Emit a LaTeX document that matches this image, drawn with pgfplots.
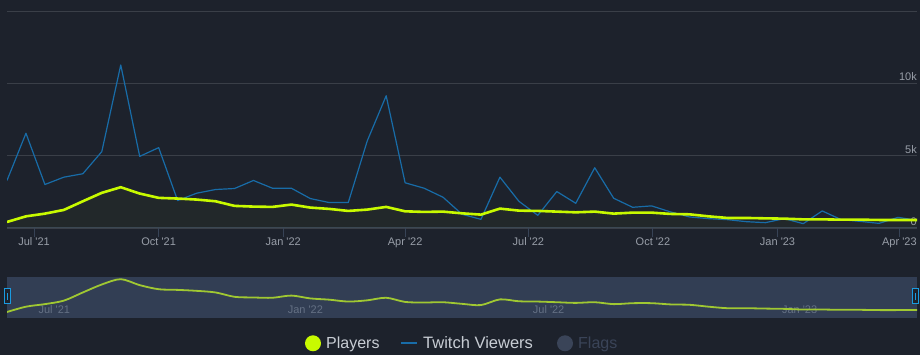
\documentclass[border=0pt]{standalone}
\usepackage{fontspec}
\setmainfont{Liberation Sans}
\usepackage{pgfplots}
\pgfplotsset{compat=1.18}
\usepackage{pgfplotstable}

\definecolor{bg}{RGB}{29,34,44}
\definecolor{gridc}{RGB}{58,63,72}
\definecolor{axisc}{RGB}{55,67,86}
\definecolor{players}{RGB}{200,250,0}
\definecolor{twitch}{RGB}{24,108,168}
\definecolor{labelc}{RGB}{152,158,168}
\definecolor{navbg}{RGB}{50,62,84}
\definecolor{navline}{RGB}{160,200,50}
\definecolor{navlab}{RGB}{100,112,132}
\definecolor{legtext}{RGB}{200,205,212}
\definecolor{flags}{RGB}{58,68,88}
\definecolor{handle}{RGB}{26,155,224}

% day = days since 1 Jul 2021
\pgfplotstableread{
day twitch players
-20 3285 417
-6 6548 806
8 3007 993
22 3514 1250
36 3750 1847
50 5278 2430
64 11270 2819
78 4951 2382
92 5555 2083
106 1896 2035
120 2403 1965
134 2660 1847
148 2729 1528
162 3285 1479
176 2750 1458
190 2750 1618
204 2035 1410
218 1757 1319
232 1757 1180
246 6014 1271
260 9139 1458
274 3125 1153
288 2750 1111
302 2125 1132
316 950 1014
330 597 924
344 3514 1340
358 1847 1201
372 875 1180
386 2521 1132
400 1708 1083
414 4166 1132
428 2056 993
442 1431 1062
456 1528 1062
470 1111 972
484 764 944
498 646 806
512 576 694
526 437 694
540 368 667
554 646 646
568 299 597
582 1180 597
596 576 576
610 458 576
624 319 556
638 736 556
652 528 556
}\data

\begin{document}
\begin{tikzpicture}
\useasboundingbox (0,0) rectangle (920pt,355pt);
\fill[bg] (0,0) rectangle (920pt,355pt);

% main chart
\begin{axis}[
  at={(7pt,127pt)}, anchor=south west,
  width=910pt, height=217pt, scale only axis,
  xmin=-20, xmax=652, ymin=0, ymax=15000,
  scaled y ticks=false, scaled x ticks=false,
  axis x line*=bottom, axis y line*=right,
  x axis line style={draw=axisc, line width=1pt},
  y axis line style={draw=none},
  ymajorgrids, grid style={gridc, line width=0.8pt},
  ytick={0,5000,10000,15000},
  yticklabels={0,5k,10k,{}},
  y tick style={draw=none},
  yticklabel style={anchor=south east, inner sep=0pt, xshift=-9pt, yshift=2.3pt,
    font=\fontsize{11}{13}\selectfont, text=labelc},
  tick align=outside, major tick length=9pt,
  x tick style={axisc, line width=1pt},
  xtick={0,92,184,274,365,457,549,639},
  xticklabels={Jul \textquotesingle21, Oct \textquotesingle21, Jan \textquotesingle22, Apr \textquotesingle22, Jul \textquotesingle22, Oct \textquotesingle22, Jan \textquotesingle23, Apr \textquotesingle23},
  xticklabel style={inner sep=0pt, yshift=-0.5pt, font=\fontsize{11}{13}\selectfont, text=labelc},
  clip=true,
]
\addplot[draw=none, fill=players, fill opacity=0.03] table[x=day, y=players] {\data} \closedcycle;
\addplot[twitch, line width=1.2pt, line join=round] table[x=day, y=twitch] {\data};
\addplot[players, line width=2.6pt, line join=round] table[x=day, y=players] {\data};
\end{axis}

% navigator
\begin{axis}[
  at={(7pt,37.3pt)}, anchor=south west,
  width=910pt, height=41pt, scale only axis,
  xmin=-20, xmax=652, ymin=0, ymax=3000,
  scaled y ticks=false,
  axis background/.style={fill=navbg},
  axis line style={draw=none},
  major tick length=0pt,
  ytick=\empty,
  xtick={0,184,365,549},
  xticklabels={Jul \textquotesingle21, Jan \textquotesingle22, Jul \textquotesingle22, Jan \textquotesingle23},
  xticklabel style={anchor=south west, xshift=1pt, yshift=0.5pt,
    font=\fontsize{11}{13}\selectfont, text=navlab},
  clip=true,
]
\addplot[navline, line width=1.8pt, smooth, tension=0.5] table[x=day, y=players] {\data};
\end{axis}

% navigator handles
\draw[handle, fill=bg, line width=1pt] (4.5pt,51pt) rectangle (10.5pt,66pt);
\draw[handle, line width=0.8pt] (7.5pt,55pt) -- (7.5pt,62pt);
\draw[handle, fill=bg, line width=1pt] (912pt,51pt) rectangle (918pt,66pt);
\draw[handle, line width=0.8pt] (915pt,55pt) -- (915pt,62pt);

% legend
\fill[players] (313pt,11.7pt) circle (8pt);
\node[anchor=base west, inner sep=0pt, text=legtext, font=\fontsize{16}{18}\selectfont] at (326pt,6pt) {Players};
\draw[twitch, line width=2pt] (401pt,11.7pt) -- (417pt,11.7pt);
\node[anchor=base west, inner sep=0pt, text=legtext, font=\fontsize{16.5}{18}\selectfont] at (423pt,6pt) {Twitch Viewers};
\fill[flags] (565pt,11.7pt) circle (8pt);
\node[anchor=base west, inner sep=0pt, text=flags, font=\fontsize{16}{18}\selectfont] at (578pt,6pt) {Flags};
\end{tikzpicture}
\end{document}
